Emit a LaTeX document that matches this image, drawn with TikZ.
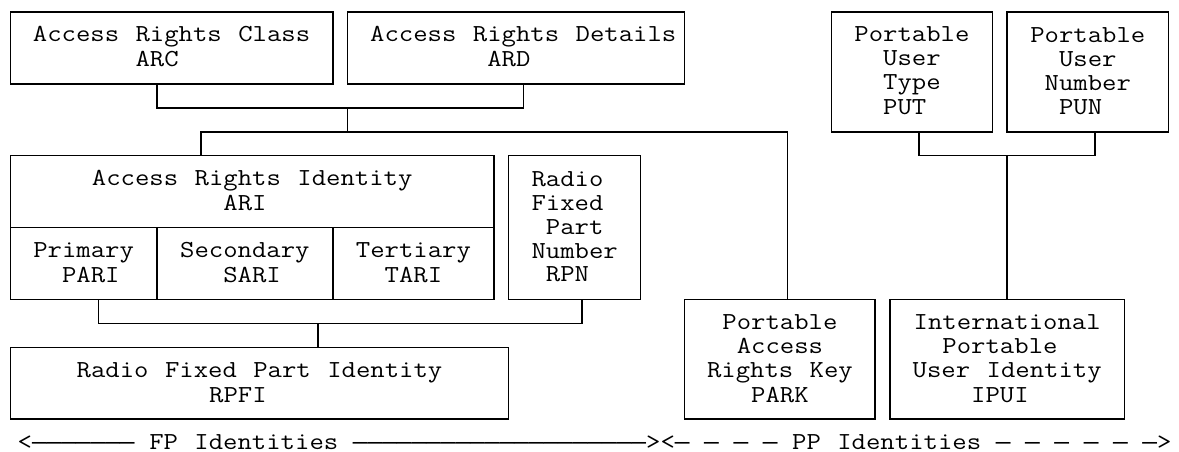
\documentclass[tikz,border=0pt]{standalone}
\usepackage{fontspec}
\newfontfamily\courfont[FakeStretch=1.1429,WordSpace={1.1429,0,0}]{Latin Modern Mono}
\newfontfamily\dashfont{Liberation Mono}
\newcommand{\dd}[1]{{\dashfont #1}}
\newcommand{\sr}{\rule[-5.475pt]{0pt}{23.95pt}}
\newcommand{\ph}[1]{\hphantom{#1}}
% grid: column c -> x = 10.3 + 14.66 c ; row r -> y = 12 + 23.95 r
\newcommand{\gbox}[6]{%
  \node[gbox, minimum width={14.66*(#4-#2)}, minimum height={23.95*(#5-#3)}]
    (#1) at ({10.3+14.66*(#2+#4)/2},{12+23.95*(#3+#5)/2}) {#6};}
\begin{document}
\begin{tikzpicture}[x=1pt,y=-1pt,
  gbox/.style={draw, rectangle, inner sep=0pt, outer sep=0pt, align=center,
    line width=1.5pt, font=\courfont\fontsize{24.43}{23.95}\selectfont},
  conn/.style={draw, line width=1.5pt},
  lbl/.style={inner sep=0pt, outer sep=0pt, font=\courfont\fontsize{24.43}{23.95}\selectfont}]
\useasboundingbox (0,0) rectangle (1179,452);
% boxes
\gbox{ARC}{0}{0}{22}{3}{\sr Access Rights Class\\\sr ARC\ph{XX}}
\gbox{ARD}{23}{0}{46}{3}{\sr\ph{X}Access Rights Details\\\sr ARD\ph{X}}
\gbox{ARI}{0}{6}{33}{9}{\sr Access Rights Identity\\\sr ARI\ph{X}}
\gbox{PARI}{0}{9}{10}{12}{\sr Primary\\\sr\ph{X}PARI}
\gbox{SARI}{10}{9}{22}{12}{\sr Secondary\\\sr\ph{X}SARI}
\gbox{TARI}{22}{9}{33}{12}{\sr Tertiary\\\sr TARI}
\gbox{RPN}{34}{6}{43}{12}{\sr Radio\ph{X}\\\sr Fixed\ph{X}\\\sr Part\\\sr Number\\\sr RPN\ph{X}}
\gbox{RPFI}{0}{14}{34}{17}{\sr Radio Fixed Part Identity\\\sr RPFI\ph{XXX}}
\gbox{PARK}{46}{12}{59}{17}{\sr Portable\\\sr Access\\\sr Rights Key\\\sr PARK}
\gbox{IPUI}{60}{12}{76}{17}{\sr International\\\sr Portable\ph{X}\\\sr User Identity\\\sr IPUI\ph{X}}
\gbox{PUT}{56}{0}{67}{5}{\sr Portable\\\sr User\\\sr Type\\\sr PUT\ph{X}}
\gbox{PUN}{68}{0}{79}{5}{\sr Portable\\\sr User\\\sr Number\\\sr PUN\ph{X}}
% junction points
\coordinate (a1) at ({10.3+14.66*10},{12+23.95*4});
\coordinate (a2) at ({10.3+14.66*35},{12+23.95*4});
\coordinate (a3) at ({10.3+14.66*23},{12+23.95*4});
\coordinate (b1) at ({10.3+14.66*13},{12+23.95*5});
\coordinate (b2) at ({10.3+14.66*53},{12+23.95*5});
\coordinate (c1) at ({10.3+14.66*6},{12+23.95*13});
\coordinate (c2) at ({10.3+14.66*39},{12+23.95*13});
\coordinate (c3) at ({10.3+14.66*21},{12+23.95*13});
\coordinate (d1) at ({10.3+14.66*62},{12+23.95*6});
\coordinate (d2) at ({10.3+14.66*74},{12+23.95*6});
\coordinate (d3) at ({10.3+14.66*68},{12+23.95*6});
% connectors
\draw[conn] (ARC.south -| a1) -- (a1) -- (a2) -- (ARD.south -| a2);
\draw[conn] (a3) -- (a3 |- b1);
\draw[conn] (ARI.north -| b1) -- (b1) -- (b2) -- (PARK.north -| b2);
\draw[conn] (PARI.south -| c1) -- (c1) -- (c2) -- (RPN.south -| c2);
\draw[conn] (c3) -- (RPFI.north -| c3);
\draw[conn] (PUT.south -| d1) -- (d1) -- (d2) -- (PUN.south -| d2);
\draw[conn] (d3) -- (IPUI.north -| d3);
% bottom legend
\node[lbl, anchor=base west] (legend) at ({10.3+14.66*1-7.33},{12+23.95*18+6.5})
  {<\dd{——————— }FP Identities\dd{ ————————————————————}><\dd{— — — — }PP Identities\dd{ — — — — — —}>};
\end{tikzpicture}
\end{document}
